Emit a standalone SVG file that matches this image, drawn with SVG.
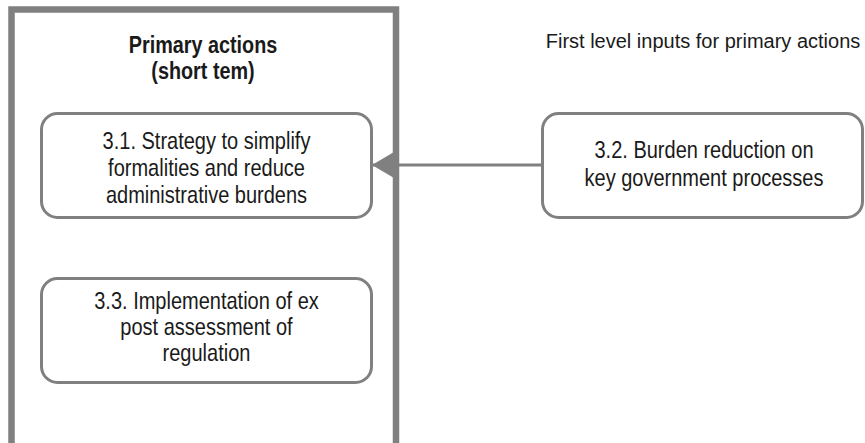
<svg xmlns="http://www.w3.org/2000/svg" width="865" height="443" viewBox="0 0 865 443">
<defs>
<style>
.frame{fill:#fff;stroke:#808080;stroke-width:6.5}
.box{fill:#fff;stroke:#808080;stroke-width:3}
.t{font-family:"Liberation Sans",Arial,sans-serif;fill:#1a1a1a;text-anchor:middle}
.b{font-size:24px}
.h{font-size:24px;font-weight:bold}
.s{font-size:20px}
.conn{stroke:#808080;stroke-width:3;fill:none}
</style>
<marker id="ah" markerUnits="userSpaceOnUse" markerWidth="24" markerHeight="26" refX="22" refY="13" orient="auto">
<path d="M0,0 L22,13 L0,26 Z" fill="#808080"/>
</marker>
</defs>
<rect width="865" height="443" fill="#fff"/>
<g id="primary">
<rect class="frame" x="11.5" y="9.5" width="384.5" height="440"/>
<text class="t h" transform="translate(203,53) scale(0.825,1)">Primary actions</text>
<text class="t h" transform="translate(203,79) scale(0.825,1)">(short tem)</text>
</g>
<g id="heading">
<text class="t s" x="703" y="48">First level inputs for primary actions</text>
</g>
<g id="n31">
<rect class="box" x="41.5" y="113.5" width="330" height="104" rx="16"/>
<text class="t b" transform="translate(206.5,149) scale(0.834,1)">3.1. Strategy to simplify</text>
<text class="t b" transform="translate(206.5,176) scale(0.834,1)">formalities and reduce</text>
<text class="t b" transform="translate(206.5,203) scale(0.834,1)">administrative burdens</text>
</g>
<g id="n32">
<rect class="box" x="542.5" y="113.5" width="320" height="104" rx="16"/>
<text class="t b" transform="translate(704,158) scale(0.834,1)">3.2. Burden reduction on</text>
<text class="t b" transform="translate(704,186) scale(0.834,1)">key government processes</text>
</g>
<g id="n33">
<rect class="box" x="41.5" y="278.5" width="330" height="104" rx="16"/>
<text class="t b" transform="translate(206.5,309) scale(0.834,1)">3.3. Implementation of ex</text>
<text class="t b" transform="translate(206.5,335) scale(0.834,1)">post assessment of</text>
<text class="t b" transform="translate(206.5,361) scale(0.834,1)">regulation</text>
</g>
<g id="connectors">
<line class="conn" x1="542" y1="165" x2="372" y2="165" marker-end="url(#ah)"/>
</g>
</svg>
